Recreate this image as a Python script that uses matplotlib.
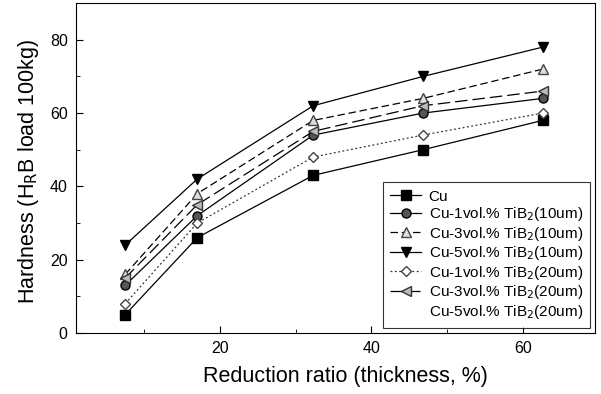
import matplotlib
matplotlib.use('Agg')
import matplotlib.pyplot as plt
from matplotlib.ticker import MultipleLocator

plt.rcParams['font.family'] = ['Liberation Sans', 'DejaVu Sans']

reduction = [7.5, 17, 32.3, 46.8, 62.6]
cu = [5, 26, 43, 50, 58]
cu1_10 = [13, 32, 54, 60, 64]
cu3_10 = [16, 38, 58, 64, 72]
cu5_10 = [24, 42, 62, 70, 78]
cu1_20 = [8, 30, 48, 54, 60]
cu3_20 = [15, 35, 55, 62, 66]

labels = ['Cu',
          'Cu-1vol.% TiB$_2$(10um)',
          'Cu-3vol.% TiB$_2$(10um)',
          'Cu-5vol.% TiB$_2$(10um)',
          'Cu-1vol.% TiB$_2$(20um)',
          'Cu-3vol.% TiB$_2$(20um)',
          'Cu-5vol.% TiB$_2$(20um)']

fig = plt.figure(figsize=(6.01, 3.94), dpi=100)
ax = fig.add_axes([0.1265, 0.155, 0.8635, 0.837])

lw = 0.9
ax.plot(reduction, cu, '-', color='black', lw=lw, marker='s', ms=6.5,
        mfc='black', mec='black', label=labels[0])
ax.plot(reduction, cu1_10, '-', color='black', lw=lw, marker='o', ms=6.5,
        mfc='#555555', mec='black', label=labels[1])
ax.plot(reduction, cu3_10, color='black', lw=lw, ls=(0, (6, 3)), marker='^', ms=7,
        mfc='#dddddd', mec='#444444', label=labels[2])
ax.plot(reduction, cu5_10, '-', color='black', lw=lw, marker='v', ms=7.5,
        mfc='black', mec='black', label=labels[3])
ax.plot(reduction, cu1_20, color='#333333', lw=lw, ls=(0, (1.5, 2)), marker='D', ms=5.5,
        mfc='white', mec='#444444', label=labels[4])
ax.plot(reduction, cu3_20, color='black', lw=lw, ls=(0, (10, 4)), marker='<', ms=7,
        mfc='#bbbbbb', mec='#333333', label=labels[5])
ax.plot([], [], ' ', label=labels[6])

ax.set_xlim(1, 69.5)
ax.set_ylim(0, 90)
ax.xaxis.set_major_locator(MultipleLocator(20))
ax.xaxis.set_minor_locator(MultipleLocator(10))
ax.yaxis.set_major_locator(MultipleLocator(20))
ax.yaxis.set_minor_locator(MultipleLocator(10))
ax.tick_params(which='both', direction='in', labelsize=11.5, pad=6)
ax.tick_params(which='major', length=5)
ax.tick_params(which='minor', length=3)

ax.set_xlabel('Reduction ratio (thickness, %)', fontsize=15.5, labelpad=7, x=0.52)
ax.set_ylabel('Hardness (H$_\\mathrm{R}$B load 100kg)', fontsize=15.5, labelpad=6, y=0.49)

leg = ax.legend(loc='lower right', fontsize=11, frameon=True, fancybox=False,
                edgecolor='black', handlelength=2.0, labelspacing=0.1,
                borderaxespad=0.3, handletextpad=0.5, borderpad=0.5)
leg.get_frame().set_linewidth(0.8)

fig.savefig('out.png', dpi=100)
